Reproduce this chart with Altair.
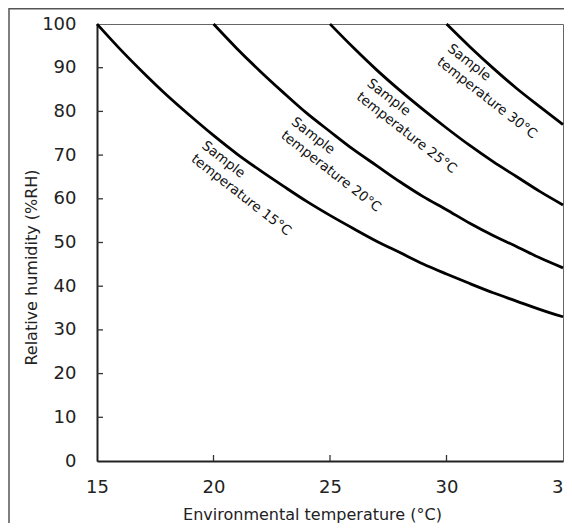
import altair as alt
import pandas as pd

# ---- data ----
env_t15 = [15, 16, 17, 18, 19, 20, 21, 22, 23, 24, 25, 26, 27, 28, 29, 30, 31, 32, 33, 34, 35]
rh_t15 = [100, 94.2, 88.8, 83.7, 79.0, 74.5, 70.3, 66.5, 62.9, 59.4, 56.2, 53.2, 50.3, 47.7, 45.1, 42.8, 40.6, 38.5, 36.6, 34.7, 33.0]
env_t20 = [20, 21, 22, 23, 24, 25, 26, 27, 28, 29, 30, 31, 32, 33, 34, 35]
rh_t20 = [100, 94.4, 89.2, 84.3, 79.6, 75.4, 71.3, 67.6, 63.9, 60.5, 57.5, 54.4, 51.6, 49.1, 46.5, 44.2]
env_t25 = [25, 26, 27, 28, 29, 30, 31, 32, 33, 34, 35]
rh_t25 = [100, 94.6, 89.5, 84.8, 80.4, 76.2, 72.2, 68.5, 65.1, 61.7, 58.6]
env_t30 = [30, 31, 32, 33, 34, 35]
rh_t30 = [100, 94.8, 89.9, 85.3, 81.1, 77.0]

series_names = ["15", "20", "25", "30"]
label_texts = ["Sample\ntemperature 15°C", "Sample\ntemperature 20°C",
               "Sample\ntemperature 25°C", "Sample\ntemperature 30°C"]
label_x = [19.75, 23.6, 26.85, 30.3]
label_y = [73.8, 79.2, 88.0, 96.0]

x_ticks = [15, 20, 25, 30, 35]
y_ticks = [0, 10, 20, 30, 40, 50, 60, 70, 80, 90, 100]
x_inner_ticks = [20, 25, 30]
y_inner_ticks = [10, 20, 30, 40, 50, 60, 70, 80, 90]

# ---- build tables ----
rows = []
for name, xs, ys in zip(series_names, [env_t15, env_t20, env_t25, env_t30],
                        [rh_t15, rh_t20, rh_t25, rh_t30]):
    for xv, yv in zip(xs, ys):
        rows.append({"series": name, "env": xv, "rh": yv})
curves = pd.DataFrame(rows)
labels = pd.DataFrame({"env": label_x, "rh": label_y, "text": label_texts})
xt = pd.DataFrame({"env": x_inner_ticks})
yt = pd.DataFrame({"rh": y_inner_ticks})
frame_df = pd.DataFrame({"a": [0]})

W, H = 466, 437
FONT = "DejaVu Sans"

xscale = alt.Scale(domain=[15, 35], nice=False, zero=False)
yscale = alt.Scale(domain=[0, 100], nice=False)

x_enc = alt.X("env:Q", scale=xscale, axis=alt.Axis(
    values=x_ticks, labelPadding=17, labelFlush=False,
    title="Environmental temperature (°C)", titleX=215, titleY=58,
    titleBaseline="alphabetic", titleAlign="center"))
y_enc = alt.Y("rh:Q", scale=yscale, axis=alt.Axis(
    values=y_ticks, labelPadding=21, labelFlush=False,
    title="Relative humidity (%RH)", titleX=-61, titleY=243, titleAngle=270,
    titleBaseline="alphabetic", titleAlign="center"))

lines = alt.Chart(curves).mark_line(color="black", strokeWidth=2.8, interpolate="monotone").encode(
    x=x_enc, y=y_enc, detail="series:N")

text = alt.Chart(labels).mark_text(
    font=FONT, fontSize=13.5, angle=38, align="left", baseline="top",
    lineBreak="\n", lineHeight=17, color="#111").encode(
    x=alt.X("env:Q", scale=xscale), y=alt.Y("rh:Q", scale=yscale), text="text:N")

xtick_marks = alt.Chart(xt).mark_rule(color="#333", strokeWidth=1.3).encode(
    x=alt.X("env:Q", scale=xscale), y=alt.value(H), y2=alt.value(H - 6))
ytick_marks = alt.Chart(yt).mark_rule(color="#333", strokeWidth=1.3).encode(
    y=alt.Y("rh:Q", scale=yscale), x=alt.value(0), x2=alt.value(6))

frame = alt.Chart(frame_df).mark_rect(filled=False, stroke="#555", strokeWidth=1.5).encode(
    x=alt.value(-88), x2=alt.value(700), y=alt.value(-15.2), y2=alt.value(700))

chart = alt.layer(frame, lines, text, xtick_marks, ytick_marks).properties(
    width=W, height=H,
    autosize=alt.AutoSizeParams(type="none"),
    padding={"left": 89, "top": 16, "right": 1, "bottom": 62},
).configure_view(stroke="#666", strokeWidth=1).configure_axis(
    domainColor="#222", domainWidth=2, ticks=False, tickSize=0, grid=False,
    labelFont=FONT, labelFontSize=18, labelColor="#222",
    titleFont=FONT, titleFontSize=16, titleFontWeight="normal", titleColor="#222")

chart.save("out.html", embed_options={"renderer": "svg", "actions": False})
